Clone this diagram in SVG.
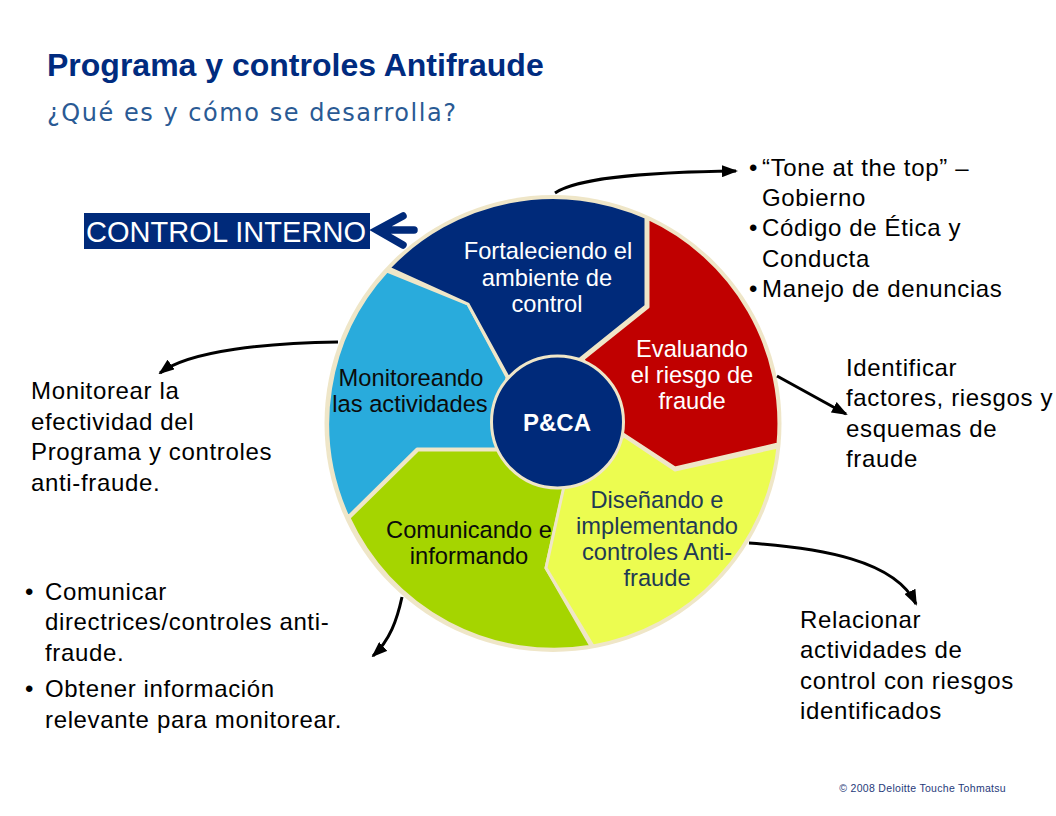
<svg xmlns="http://www.w3.org/2000/svg" width="1056" height="816" viewBox="0 0 1056 816">
<defs>
<marker id="ah" markerWidth="16" markerHeight="12" refX="14" refY="6" orient="auto" markerUnits="userSpaceOnUse"><path d="M0 0L16 6L0 12Z" fill="#000"/></marker>
</defs>
<style>
text{font-family:"Liberation Sans",Arial,sans-serif}
.b{font-size:24px;letter-spacing:.65px;fill:#000}
.s{font-size:23.7px;text-anchor:middle}
.w{fill:#fff}.k{fill:#0b0b0b}.n{fill:#1f3a54}
.seg{stroke:#efe6c8;stroke-width:3;stroke-linejoin:round}
.c{fill:none;stroke:#000;stroke-width:3}
</style>
<rect width="1056" height="816" fill="#fff"/>
<g id="title">
<text x="47" y="76" font-weight="bold" fill="#002b7f" style="font-size:32px">Programa y controles Antifraude</text>
<text x="47" y="121" font-size="24" fill="#2a5a94" style="font-family:'DejaVu Sans',sans-serif" textLength="409">¿Qué es y cómo se desarrolla?</text>
</g>
<g id="wheel">
<circle cx="553" cy="423.5" r="228.5" fill="#efe6c8"/>
<path class="seg" fill="#29abdc" d="M387 271A226 226 0 0 0 348 517L417 449H497L507 377L468 304Z"/>
<path class="seg" fill="#a5d500" d="M349 518L418 450H500L564 488L546 568L591 646.3A226 226 0 0 1 349 518Z"/>
<path class="seg" fill="#ecfc50" d="M778 447A226 226 0 0 1 593 646L546 568L564 486L624 436L675 470Z"/>
<path class="seg" fill="#c00000" d="M648 218.5A226 226 0 0 1 778 444L675 468L620 432L583 359L648 307Z"/>
<path class="seg" fill="#002a7a" d="M389 268A226 226 0 0 1 646 217.5V306L580 359L508 377L468 304Z"/>
</g>
<g id="center"><circle cx="557.5" cy="422" r="66" fill="#002a7a" stroke="#efe6c8" stroke-width="3"/>
<text x="557" y="431" font-size="24" font-weight="bold" text-anchor="middle" fill="#fff">P&amp;CA</text></g>
<g id="n1" class="s w"><text x="548" y="259">Fortaleciendo el</text><text x="547" y="286">ambiente de</text><text x="547" y="312">control</text></g>
<g id="n2" class="s w"><text x="692" y="357">Evaluando</text><text x="692" y="383">el riesgo de</text><text x="692" y="409">fraude</text></g>
<g id="n3" class="s n"><text x="657" y="508">Diseñando e</text><text x="657" y="534">implementando</text><text x="657" y="560">controles Anti-</text><text x="657" y="586">fraude</text></g>
<g id="n4" class="s k"><text x="469" y="538">Comunicando e</text><text x="469" y="564">informando</text></g>
<g id="n5" class="s k"><text x="411" y="386">Monitoreando</text><text x="410" y="412">las actividades</text></g>
<g id="control-interno"><rect x="84" y="213" width="286" height="36" fill="#002a7a"/>
<text x="226" y="242" font-size="29" text-anchor="middle" fill="#fff" textLength="280">CONTROL INTERNO</text></g>
<g id="connectors">
<path d="M414 230H380M403 216L377 230L403 245" fill="none" stroke="#002a7a" stroke-width="7.5" stroke-linecap="round" stroke-linejoin="miter"/>
<path class="c" marker-end="url(#ah)" d="M555 193C580 176 660 172 736 171"/>
<path class="c" marker-end="url(#ah)" d="M777 376L846 414"/>
<path class="c" marker-end="url(#ah)" d="M749 543C820 548 895 560 916 604"/>
<path class="c" marker-end="url(#ah)" d="M402 597C397 620 390 640 373 656"/>
<path class="c" marker-end="url(#ah)" d="M338 342C270 343 190 350 160 373"/>
</g>
<g id="note-top" class="b">
<text x="749" y="176">•</text><text x="762" y="176">“Tone at the top” –</text><text x="762" y="206">Gobierno</text>
<text x="749" y="236">•</text><text x="762" y="236">Código de Ética y</text><text x="762" y="267">Conducta</text>
<text x="749" y="297">•</text><text x="762" y="297">Manejo de denuncias</text>
</g>
<g id="note-right" class="b"><text x="846" y="376">Identificar</text><text x="846" y="406">factores, riesgos y</text><text x="846" y="437">esquemas de</text><text x="846" y="467">fraude</text></g>
<g id="note-br" class="b"><text x="800" y="628">Relacionar</text><text x="800" y="658">actividades de</text><text x="800" y="689">control con riesgos</text><text x="800" y="719">identificados</text></g>
<g id="note-left" class="b"><text x="31" y="399">Monitorear la</text><text x="31" y="430">efectividad del</text><text x="31" y="460">Programa y controles</text><text x="31" y="491">anti-fraude.</text></g>
<g id="note-bl" class="b">
<text x="25" y="600">•</text><text x="45" y="600">Comunicar</text><text x="45" y="630">directrices/controles anti-</text><text x="45" y="661">fraude.</text>
<text x="25" y="697">•</text><text x="45" y="697">Obtener información</text><text x="45" y="728">relevante para monitorear.</text>
</g>
<text id="copyright" x="1006" y="792" font-size="10.5" letter-spacing=".3" text-anchor="end" fill="#1f3a7a">© 2008 Deloitte Touche Tohmatsu</text>
</svg>
